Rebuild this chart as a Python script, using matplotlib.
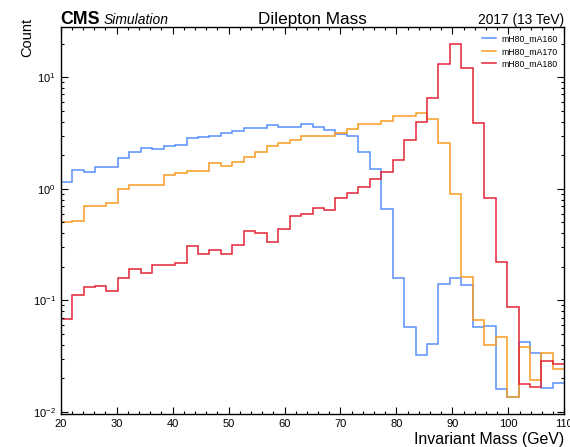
import numpy as np
import matplotlib
matplotlib.use("Agg")
import matplotlib.pyplot as plt
from matplotlib.ticker import MultipleLocator, LogLocator

# ===============================
# DATA
# ===============================
bin_edges = np.linspace(20, 110, 45)   # 44 bins

labels = ["mH80_mA160", "mH80_mA170", "mH80_mA180"]
colors = ["#5790fc", "#f89c20", "#e42536"]

mA160 = [1.15, 1.46, 1.41, 1.58, 1.58, 1.89, 2.15, 2.31, 2.26, 2.44, 2.45,
         2.84, 2.92, 2.98, 3.13, 3.26, 3.49, 3.49, 3.72, 3.59, 3.57, 3.84,
         3.59, 3.37, 3.08, 2.98, 2.13, 1.50, 0.66, 0.158, 0.058, 0.0323,
         0.0407, 0.140, 0.157, 0.137, 0.058, 0.0594, 0.0161, 0.0137, 0.0421,
         0.0334, 0.0163, 0.0182]
mA170 = [0.505, 0.519, 0.706, 0.703, 0.748, 1.00, 1.08, 1.08, 1.08, 1.32, 1.39,
         1.45, 1.45, 1.70, 1.61, 1.75, 1.93, 2.13, 2.44, 2.59, 2.74, 3.00,
         3.00, 2.96, 3.17, 3.42, 3.84, 3.79, 4.08, 4.53, 4.47, 4.75, 4.23,
         2.56, 0.895, 0.161, 0.0668, 0.0397, 0.0474, 0.0135, 0.0383, 0.0195,
         0.0339, 0.0243]
mA180 = [0.0687, 0.111, 0.131, 0.134, 0.122, 0.159, 0.191, 0.177, 0.209, 0.207,
         0.217, 0.310, 0.261, 0.282, 0.261, 0.314, 0.422, 0.400, 0.332, 0.440,
         0.572, 0.594, 0.670, 0.642, 0.824, 0.914, 1.03, 1.23, 1.40, 1.80,
         2.74, 4.00, 6.48, 13.1, 19.8, 12.2, 3.87, 0.824, 0.22, 0.0875,
         0.0177, 0.0168, 0.0285, 0.0268]

# ===============================
# STYLE
# ===============================
plt.rcParams["font.family"] = ["Liberation Sans", "DejaVu Sans"]
plt.rcParams["mathtext.fontset"] = "custom"
plt.rcParams["mathtext.rm"] = "Liberation Sans"
plt.rcParams["mathtext.it"] = "Liberation Sans:italic"
plt.rcParams["mathtext.bf"] = "Liberation Sans:bold"

fig = plt.figure(figsize=(5.7, 4.47), dpi=100)
ax = fig.add_axes([0.1065, 0.074, 0.8835, 0.865])

for vals, col, lab in zip([mA160, mA170, mA180], colors, labels):
    ax.stairs(vals, bin_edges, color=col, linewidth=1.1, label=lab, baseline=None)

ax.set_xlim(20, 110)
ax.set_yscale("log")
ax.set_ylim(0.0096, 28)

ax.xaxis.set_major_locator(MultipleLocator(10))
ax.xaxis.set_minor_locator(MultipleLocator(2))
ax.yaxis.set_minor_locator(LogLocator(base=10, subs=np.arange(2, 10), numticks=20))

ax.tick_params(which="both", direction="in", top=True, right=True, labelsize=8, width=0.8)
ax.tick_params(which="major", length=5)
ax.tick_params(which="minor", length=2.5)
for sp in ax.spines.values():
    sp.set_linewidth(1.0)

ax.set_xlabel("Invariant Mass (GeV)", loc="right", fontsize=11.4, labelpad=2)
ax.set_ylabel("Count", loc="top", fontsize=10.5)
ax.yaxis.set_label_coords(-0.052, 1.025)

ax.text(0.0, 1.0085, "CMS", transform=ax.transAxes, fontsize=12.8,
        fontweight="bold", ha="left", va="baseline")
ax.text(0.0854, 1.0085, "Simulation", transform=ax.transAxes, fontsize=10,
        style="italic", ha="left", va="baseline")
ax.text(0.5, 1.0085, "Dilepton Mass", transform=ax.transAxes, fontsize=12.3,
        ha="center", va="baseline")
ax.text(1.0, 1.0085, "2017 (13 TeV)", transform=ax.transAxes, fontsize=9.9,
        ha="right", va="baseline")

ax.legend(loc="upper right", frameon=False, fontsize=6.3, handlelength=1.6,
          handletextpad=0.6, labelspacing=0.4, borderaxespad=0.4)

fig.savefig("out.png", dpi=100)
